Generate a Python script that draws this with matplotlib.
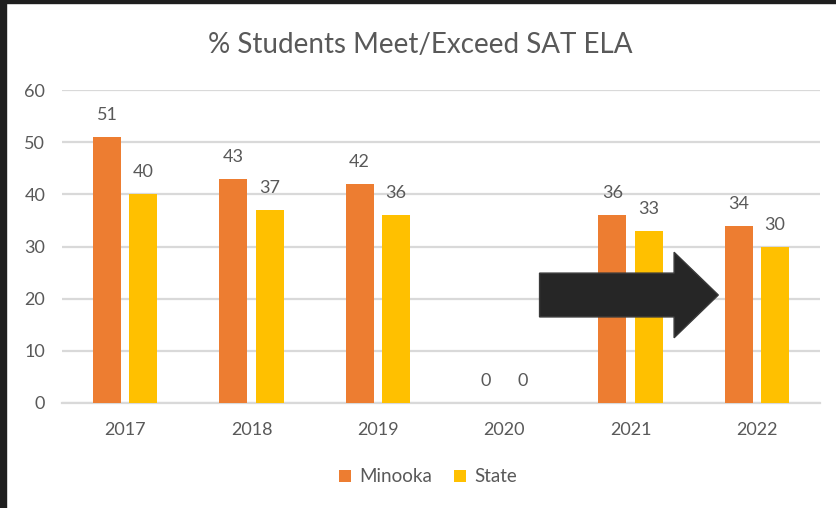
import numpy as np
import matplotlib
matplotlib.use("Agg")
import matplotlib.pyplot as plt
from matplotlib.patches import Rectangle, FancyArrow

# data
years = ["2017", "2018", "2019", "2020", "2021", "2022"]
minooka = [51, 43, 42, 0, 36, 34]
state = [40, 37, 36, 0, 33, 30]

ORANGE = "#ED7D31"
YELLOW = "#FFC000"
TEXT = "#595959"
GRID = "#D9D9D9"

plt.rcParams["font.family"] = ["Lato", "DejaVu Sans"]

fig = plt.figure(figsize=(8.37, 5.08), dpi=100)
ax = fig.add_axes([0.0741, 0.2067, 0.9797 - 0.0741, 0.8228 - 0.2067])

x = np.arange(len(years))
w = 0.222
off = 0.144
b1 = ax.bar(x - off, minooka, w, color=ORANGE, label="Minooka", zorder=3)
b2 = ax.bar(x + off, state, w, color=YELLOW, label="State", zorder=3)
ax.bar_label(b1, padding=10, color=TEXT, fontsize=13)
ax.bar_label(b2, padding=10, color=TEXT, fontsize=13)

ax.set_xlim(-0.5, len(years) - 0.5)
ax.set_ylim(0, 60)
ax.set_yticks(range(0, 61, 10))
ax.set_xticks(x)
ax.set_xticklabels(years)
ax.tick_params(axis="both", length=0, colors=TEXT, labelsize=13)
ax.tick_params(axis="y", pad=12)
ax.tick_params(axis="x", pad=14)
ax.yaxis.grid(True, color=GRID, linewidth=1.6, zorder=0)
for s in ["top", "right", "left"]:
    ax.spines[s].set_visible(False)
ax.spines["bottom"].set_color(GRID)
ax.spines["bottom"].set_linewidth(1.6)

# the big black arrow pointing at 2022
arrow = FancyArrow(3.28, 20.7, 1.415, 0, width=8.4, head_width=16.4,
                   head_length=0.35, length_includes_head=True,
                   facecolor="#262626", edgecolor="#3a3a3a", linewidth=1,
                   zorder=5)
ax.add_patch(arrow)

fig.suptitle("% Students Meet/Exceed SAT ELA", x=0.502, y=1 - 45 / 508,
             va="center", fontsize=20, color=TEXT)

fig.legend(handles=[b1, b2], loc="center", ncol=2,
           bbox_to_anchor=(428 / 837, 1 - 477 / 508), frameon=False,
           fontsize=13.5, labelcolor=TEXT, handlelength=0.65, handleheight=0.65,
           handletextpad=0.4, columnspacing=1.2)

# dark screenshot border on left and top
fig.patches.append(Rectangle((0, 0), 6 / 837, 1, transform=fig.transFigure,
                             color="#1e1e1e", zorder=10))
fig.patches.append(Rectangle((0, 1 - 3 / 508), 1, 3 / 508,
                             transform=fig.transFigure, color="#1e1e1e",
                             zorder=10))

fig.savefig("out.png", dpi=100)
